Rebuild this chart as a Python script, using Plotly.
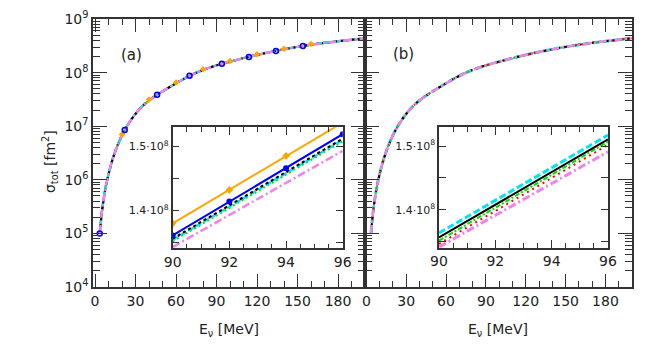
import plotly.graph_objects as go

# main curve (both panels), E in MeV, sigma in fm^2
E_main = [3.5, 5, 6.5, 8, 10, 12.5, 15, 17.5, 20, 22.5, 25, 30, 35, 40, 45, 50, 60, 70, 80,
          90, 100, 110, 120, 130, 140, 150, 160, 170, 180, 190, 200]
sigma_main = [1.0e5, 2.4e5, 4.57e5, 7.6e5, 1.26e6, 2.19e6, 3.39e6, 4.9e6, 6.76e6, 8.9e6, 1.135e7,
              1.70e7, 2.34e7, 3.02e7, 3.72e7, 4.47e7, 6.31e7, 8.71e7, 1.12e8, 1.365e8, 1.60e8,
              1.86e8, 2.14e8, 2.43e8, 2.72e8, 3.02e8, 3.31e8, 3.59e8, 3.85e8, 4.10e8, 4.37e8]

# marker points in panel (a)
E_blue_pts = [3.5, 22, 46, 70, 94, 114, 134, 154]
sigma_blue_pts = [1.0e5, 8.5e6, 3.85e7, 8.7e7, 1.46e8, 1.96e8, 2.54e8, 3.14e8]
E_orange_pts = [20, 40, 60, 80, 100, 120, 140, 160]
sigma_orange_pts = [7.0e6, 3.15e7, 6.55e7, 1.16e8, 1.65e8, 2.2e8, 2.8e8, 3.4e8]

# insets
E_inset = [90, 92, 94, 96]
inset_a = {
    'orange': [1.380e8, 1.432e8, 1.485e8, 1.537e8],
    'blue': [1.361e8, 1.414e8, 1.466e8, 1.519e8],
    'violet': [1.343e8, 1.393e8, 1.443e8, 1.493e8],
    'green': [1.352e8, 1.404e8, 1.456e8, 1.508e8],
    'red': [1.355e8, 1.407e8, 1.459e8, 1.511e8],
    'cyan': [1.354e8, 1.406e8, 1.458e8, 1.510e8],
    'black': [1.356e8, 1.408e8, 1.460e8, 1.512e8],
}
inset_b = {
    'violet': [1.342e8, 1.392e8, 1.441e8, 1.491e8],
    'red': [1.347e8, 1.398e8, 1.450e8, 1.502e8],
    'green': [1.352e8, 1.403e8, 1.455e8, 1.507e8],
    'cyan': [1.364e8, 1.415e8, 1.466e8, 1.517e8],
    'black': [1.357e8, 1.408e8, 1.459e8, 1.5105e8],
}

# page body has an 8px margin, so the figure is shrunk and positions shifted by it
W, H = 664, 358
PAD = 8
FW, FH = W - 2 * PAD, H - 2 * PAD
FONT = 'DejaVu Sans'


def px(x):
    return (x - PAD) / FW


def py(y):
    return 1 - (y - PAD) / FH


colors = dict(orange='#FFA500', blue='#0000FF', black='#000000', cyan='#00E5EE',
              green='#00E000', red='#FF0000', violet='#EE82EE')

styles_a = dict(
    violet=dict(width=2.5, dash='8px,3px,2px,3px'),
    green=dict(width=2, dash='2px,3px'),
    red=dict(width=2, dash='2px,4px'),
    cyan=dict(width=2.5, dash='6px,3px'),
    black=dict(width=2, dash='3px,3px'),
)
styles_b = dict(
    violet=dict(width=3, dash='8px,3px,2px,3px'),
    red=dict(width=2, dash='2px,4px'),
    green=dict(width=2, dash='5px,2px,2px,2px'),
    cyan=dict(width=3, dash='7px,3px'),
    black=dict(width=2, dash='solid'),
)

fig = go.Figure()

# panel (a) main
fig.add_trace(go.Scatter(x=E_main, y=sigma_main, mode='lines', line=dict(color=colors['blue'], width=2, shape='spline'),
                         xaxis='x', yaxis='y'))
fig.add_trace(go.Scatter(x=E_main, y=sigma_main, mode='lines', line=dict(color=colors['orange'], width=2, shape='spline'),
                         xaxis='x', yaxis='y'))
for k in ['red', 'green', 'cyan', 'black', 'violet']:
    fig.add_trace(go.Scatter(x=E_main, y=sigma_main, mode='lines',
                             line=dict(color=colors[k], shape='spline', **styles_a[k]), xaxis='x', yaxis='y'))
fig.add_trace(go.Scatter(x=E_orange_pts, y=sigma_orange_pts, mode='markers',
                         marker=dict(symbol='diamond', size=5, color=colors['orange']),
                         xaxis='x', yaxis='y'))
fig.add_trace(go.Scatter(x=E_blue_pts, y=sigma_blue_pts, mode='markers',
                         marker=dict(symbol='circle-open', size=5, color=colors['blue'],
                                     line=dict(width=1.5, color=colors['blue'])),
                         xaxis='x', yaxis='y'))

# panel (b) main
for k in ['cyan', 'green', 'red', 'black', 'violet']:
    st = dict(styles_b[k])
    if k == 'black':
        st['dash'] = '3px,4px'
    if k == 'violet':
        st['width'] = 2.5
    fig.add_trace(go.Scatter(x=E_main, y=sigma_main, mode='lines',
                             line=dict(color=colors[k], shape='spline', **st), xaxis='x2', yaxis='y2'))

# inset (a)
for k in ['violet', 'green', 'red', 'cyan', 'black']:
    fig.add_trace(go.Scatter(x=E_inset, y=inset_a[k], mode='lines',
                             line=dict(color=colors[k], **styles_a[k]), xaxis='x3', yaxis='y3'))
fig.add_trace(go.Scatter(x=E_inset, y=inset_a['blue'], mode='lines+markers',
                         line=dict(color=colors['blue'], width=2),
                         marker=dict(symbol='circle', size=6, color=colors['blue']),
                         xaxis='x3', yaxis='y3'))
fig.add_trace(go.Scatter(x=E_inset, y=inset_a['orange'], mode='lines+markers',
                         line=dict(color=colors['orange'], width=2),
                         marker=dict(symbol='diamond', size=6, color=colors['orange']),
                         xaxis='x3', yaxis='y3'))

# inset (b)
for k in ['violet', 'red', 'green', 'cyan', 'black']:
    fig.add_trace(go.Scatter(x=E_inset, y=inset_b[k], mode='lines',
                             line=dict(color=colors[k], **styles_b[k]), xaxis='x4', yaxis='y4'))

frame = dict(showline=True, linecolor='#333333', linewidth=1.5, mirror='ticks',
             ticks='inside', tickcolor='#333333', showgrid=False, zeroline=False,
             automargin=False, tickfont=dict(family=FONT, size=14, color='#222222'))

main_x = dict(frame, range=[-1.5, 200], tick0=0, dtick=30, ticklen=13, tickwidth=1.2,
              minor=dict(ticks='inside', dtick=10, ticklen=6, tickcolor='#333333', tickwidth=1))
logvals = [1e4, 1e5, 1e6, 1e7, 1e8, 1e9]
logtext = ['10<sup>%d</sup>' % i for i in range(4, 10)]
log_minor = [m * 10 ** d for d in range(4, 9) for m in range(2, 10)]
main_y = dict(frame, type='log', range=[4, 9], tickvals=logvals, ticktext=logtext,
              ticklen=14, tickwidth=1.2,
              minor=dict(ticks='inside', tickvals=log_minor, ticklen=7, tickcolor='#333333', tickwidth=1))

inset_x = dict(frame, range=[90, 96], tick0=90, dtick=2, ticklen=8, tickwidth=1.2,
               minor=dict(ticks='inside', dtick=0.5, ticklen=5, tickcolor='#333333', tickwidth=1))
inset_y = dict(frame, range=[1.341e8, 1.5297e8], tickvals=[1.35e8, 1.4e8, 1.45e8, 1.5e8],
               ticktext=['', '1.4·10<sup>8</sup>', '', '1.5·10<sup>8</sup>'],
               ticklen=7, tickwidth=1.2, tickfont=dict(family=FONT, size=11, color='#222222'))


def label(text, x, y, size=14, angle=0):
    return dict(text=text, x=px(x), y=py(y), xref='paper', yref='paper', xanchor='center',
                yanchor='middle', textangle=angle, showarrow=False, font=dict(size=size))


fig.update_layout(
    width=FW, height=FH,
    margin=dict(l=0, r=0, t=0, b=0, autoexpand=False),
    paper_bgcolor='white', plot_bgcolor='white',
    showlegend=False,
    font=dict(family=FONT, size=14, color='#222222'),
    xaxis=dict(main_x, domain=[px(93), px(365)], anchor='y'),
    yaxis=dict(main_y, domain=[py(287), py(19)], anchor='x'),
    xaxis2=dict(main_x, range=[-1, 200], domain=[px(365), px(632)], anchor='y2'),
    yaxis2=dict(main_y, domain=[py(287), py(19)], anchor='x2', showticklabels=False),
    xaxis3=dict(inset_x, domain=[px(172.7), px(342.7)], anchor='y3'),
    yaxis3=dict(inset_y, domain=[py(248.3), py(127.3)], anchor='x3'),
    xaxis4=dict(inset_x, domain=[px(439), px(608)], anchor='y4'),
    yaxis4=dict(inset_y, domain=[py(247.7), py(127)], anchor='x4'),
    annotations=[
        label('σ<sub>tot</sub> [fm<sup>2</sup>]', 50, 162, angle=-90),
        label('E<sub>ν</sub> [MeV]', 229, 330),
        label('E<sub>ν</sub> [MeV]', 498, 330),
        label('(a)', 131, 55, size=15),
        label('(b)', 403, 54, size=15),
    ],
)

fig.write_html('out.html')
